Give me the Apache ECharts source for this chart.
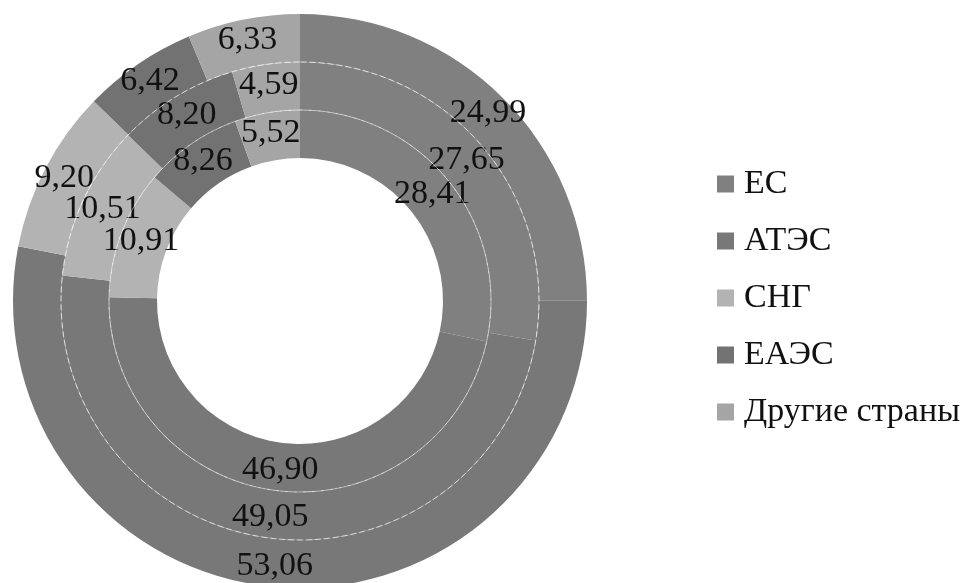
<!DOCTYPE html>
<html>
<head>
<meta charset="utf-8">
<style>
  html, body { margin: 0; padding: 0; background: #ffffff; }
  #chart { width: 963px; height: 583px; }
</style>
<script src="https://cdn.jsdelivr.net/npm/echarts@6/dist/echarts.min.js"></script>
</head>
<body>
<div id="chart"></div>
<script>
// Regions (slice order, clockwise from 12 o'clock)
const regions = ['ЕС', 'АТЭС', 'СНГ', 'ЕАЭС', 'Другие страны'];
// Shares, %, one array per ring
const outerRing  = [24.99, 53.06, 9.20, 6.42, 6.33];
const middleRing = [27.65, 49.05, 10.51, 8.20, 4.59];
const innerRing  = [28.41, 46.90, 10.91, 8.26, 5.52];

const colors = ['#808080', '#787878', '#b3b3b3', '#727272', '#a5a5a5'];
const serif = '"Liberation Serif", "Times New Roman", "DejaVu Serif", serif';
const center = [300, 301];

function fmt(v) {
  return v.toFixed(2).replace('.', ',');
}

function ring(name, values, radius) {
  return {
    name: name,
    type: 'pie',
    center: center,
    radius: radius,
    startAngle: 90,
    clockwise: true,
    silent: true,
    avoidLabelOverlap: false,
    emphasis: { disabled: true },
    itemStyle: { borderWidth: 0 },
    label: {
      show: true,
      position: 'inside',
      formatter: p => fmt(p.value),
      fontFamily: serif,
      fontSize: 34,
      color: '#111111'
    },
    labelLayout: { hideOverlap: false },
    labelLine: { show: false },
    data: regions.map((r, i) => ({ name: r, value: values[i] })),
    z: 2
  };
}

// thin pale dashed circle drawn between neighbouring rings
function divider(r) {
  return {
    type: 'pie',
    center: center,
    radius: [r, r],
    silent: true,
    emphasis: { disabled: true },
    label: { show: false },
    labelLine: { show: false },
    itemStyle: {
      color: 'rgba(0,0,0,0)',
      borderColor: 'rgba(255,255,255,0.55)',
      borderWidth: 0.8,
      borderType: [6, 3]
    },
    data: [{ name: '', value: 1 }],
    z: 3
  };
}

const chart = echarts.init(document.getElementById('chart'), null, { renderer: 'canvas' });
chart.setOption({
  animation: false,
  backgroundColor: '#ffffff',
  color: colors,
  legend: {
    orient: 'vertical',
    left: 712,
    top: 161,
    itemWidth: 17,
    itemHeight: 17,
    itemGap: 21,
    icon: 'rect',
    selectedMode: false,
    data: regions,
    textStyle: {
      fontFamily: serif,
      fontSize: 34,
      lineHeight: 36,
      color: '#111111',
      padding: [0, 0, 0, 5]
    }
  },
  series: [
    ring('inner', innerRing, [143, 191]),
    ring('middle', middleRing, [191, 239]),
    ring('outer', outerRing, [239, 287]),
    divider(191),
    divider(239)
  ]
});
</script>
</body>
</html>
